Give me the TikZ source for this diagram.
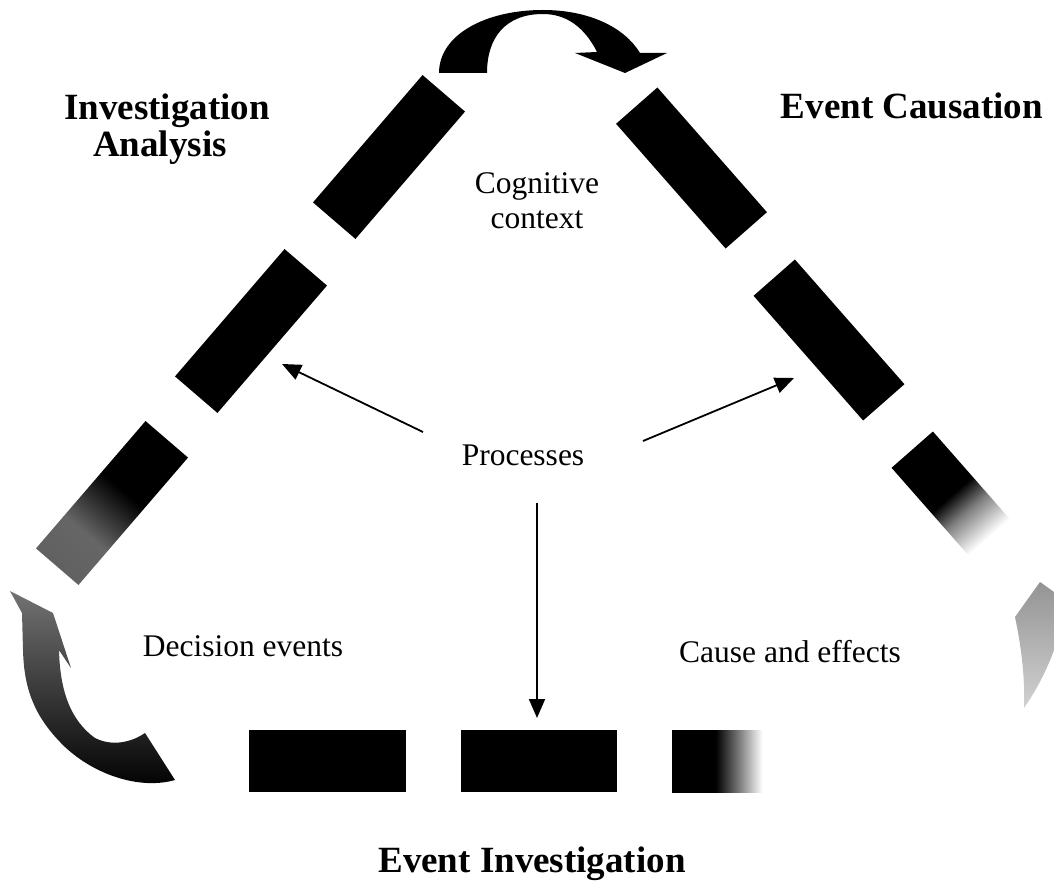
\documentclass[tikz,border=0pt]{standalone}
\usepackage{fontspec}
\setmainfont{Liberation Serif}
\usetikzlibrary{arrows.meta}

% fades along the length of the bars (the bar spans 25bp..75bp)
\pgfdeclarehorizontalshading{greyend}{100bp}{color(0bp)=(black!62); color(25bp)=(black!62); color(38bp)=(black!60); color(55bp)=(black); color(100bp)=(black)}
\pgfdeclarehorizontalshading{fadeslant}{100bp}{color(0bp)=(black); color(43bp)=(black); color(50bp)=(black!50); color(60bp)=(white); color(100bp)=(white)}
\pgfdeclarehorizontalshading{fadeflat}{100bp}{color(0bp)=(black); color(39bp)=(black); color(46bp)=(black!55); color(54bp)=(white); color(100bp)=(white)}

\begin{document}
\begin{tikzpicture}[x=1pt,y=-1pt,
  lbl/.style={inner sep=0pt, anchor=base, font=\fontsize{31.5}{36}\selectfont},
  heading/.style={inner sep=0pt, anchor=base, font=\fontsize{37}{40}\selectfont\bfseries},
  pointer/.style={line width=1.8pt, -{Triangle[length=19pt,width=16pt]}}]
\useasboundingbox (0,0) rectangle (1054,893);
\fill[white] (0,0) rectangle (1054,893);

% ---- left side of the triangle: three slanted bars ----
\begin{scope}[transform canvas={shift={(389,157)},rotate=49.3}]
  \fill[black] (-84,-28) rectangle (84,28);
\end{scope}
\begin{scope}[transform canvas={shift={(251,331)},rotate=49.3}]
  \fill[black] (-84,-28) rectangle (84,28);
\end{scope}
\begin{scope}[transform canvas={shift={(112,503)},rotate=49.3}]
  \shade[shading=greyend] (-84,-28) rectangle (84,28);
\end{scope}

% ---- right side of the triangle ----
\begin{scope}[transform canvas={shift={(691.5,168)},rotate=-48.7}]
  \fill[black] (-83,-27.5) rectangle (83,27.5);
\end{scope}
\begin{scope}[transform canvas={shift={(829,340)},rotate=-48.7}]
  \fill[black] (-83,-27.5) rectangle (83,27.5);
\end{scope}
\begin{scope}[transform canvas={shift={(967,512)},rotate=-48.7}]
  \shade[shading=fadeslant] (-83,-27.5) rectangle (83,27.5);
\end{scope}

% ---- base of the triangle ----
\fill[black] (249,730) rectangle (406,792);
\fill[black] (461,730) rectangle (617,792);
\shade[shading=fadeflat] (672,730) rectangle (828,792);

% ---- curved arrow at the apex ----
\fill[black] (439,73) .. controls (439,35) and (485,10) .. (543,10)
  .. controls (590,10) and (625,28) .. (640,53) -- (667,53) -- (625,73)
  -- (575,53) -- (597,52) .. controls (585,28) and (567,14) .. (543,14)
  .. controls (505,14) and (487,38) .. (487,73) -- cycle;

% ---- curved arrow at the lower left corner ----
\shade[top color=black!55, bottom color=black]
  (10,591) -- (53,613) -- (71,668) -- (59,650)
  .. controls (60,690) and (70,720) .. (95,738)
  .. controls (115,748) and (135,740) .. (145,733) -- (175,780)
  .. controls (140,790) and (95,775) .. (65,747)
  .. controls (35,718) and (24,690) .. (23,650) -- (22,613) -- cycle;

% ---- faded arrow head at the lower right corner ----
\shade[top color=black!42, bottom color=black!18]
  (1040,582) -- (1054,592) -- (1054,650)
  .. controls (1045,675) and (1033,695) .. (1024,708)
  .. controls (1025,680) and (1022,650) .. (1015,617) -- cycle;

% ---- labels ----
\node[heading] (ia1) at (167,120) {Investigation};
\node[heading] (ia2) at (160,157) {Analysis};
\node[heading] (ec) at (912,119) {Event Causation};
\node[heading] (ei) at (532,872) {Event Investigation};
\node[lbl] (cc1) at (537,194) {Cognitive};
\node[lbl] (cc2) at (537,229) {context};
\node[lbl] (proc) at (523,465) {Processes};
\node[lbl] (de) at (243,656) {Decision events};
\node[lbl] (ce) at (790,662) {Cause and effects};

% ---- pointers from the processes ----
\coordinate (procL) at (423,432);
\coordinate (procR) at (643,441);
\coordinate (procB) at (537,503);
\coordinate (tipL) at (282,364);
\coordinate (tipR) at (794,378);
\coordinate (tipB) at (537,718);
\draw[pointer] (procL) -- (tipL);
\draw[pointer] (procR) -- (tipR);
\draw[pointer] (procB) -- (tipB);
\end{tikzpicture}
\end{document}
